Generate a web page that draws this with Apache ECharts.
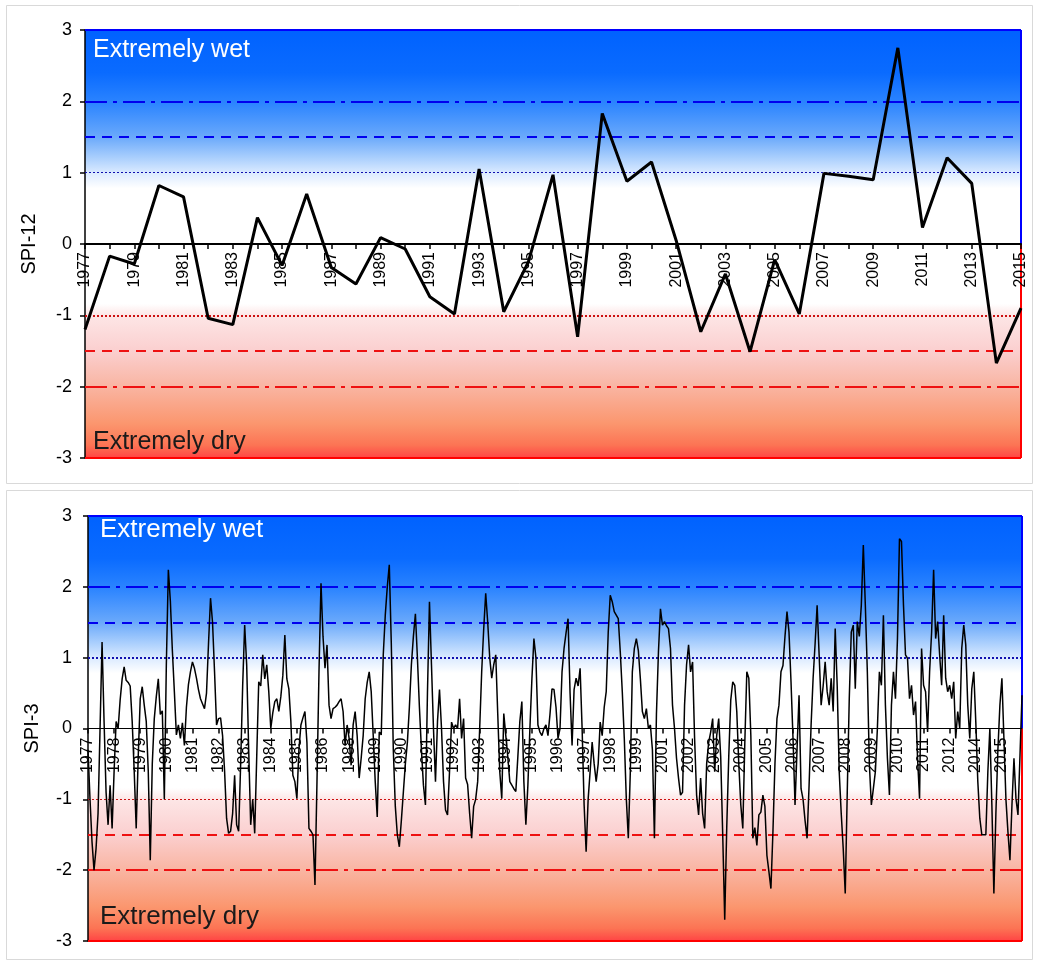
<!DOCTYPE html>
<html>
<head>
<meta charset="utf-8">
<script src="https://cdn.jsdelivr.net/npm/echarts@6/dist/echarts.min.js"></script>
<style>
html,body{margin:0;padding:0;background:#fff;}
#c{width:1040px;height:963px;}
</style>
</head>
<body>
<div id="c"></div>
<script>
// ---------- DATA ----------
const years12 = ['1977','1978','1979','1980','1981','1982','1983','1984','1985','1986','1987','1988','1989','1990','1991','1992','1993','1994','1995','1996','1997','1998','1999','2000','2001','2002','2003','2004','2005','2006','2007','2008','2009','2010','2011','2012','2013','2014','2015'];
const spi12 = [-1.2,-0.17,-0.28,0.82,0.66,-1.04,-1.13,0.37,-0.3,0.7,-0.33,-0.56,0.09,-0.07,-0.74,-0.98,1.05,-0.95,-0.25,0.97,-1.3,1.83,0.88,1.15,0.05,-1.23,-0.42,-1.51,-0.22,-0.98,0.99,0.95,0.9,2.75,0.23,1.21,0.85,-1.67,-0.9];

// SPI-3 monthly values, March 1977 - December 2015
const spi3_a = [ // 1977-03 .. 1985-02
-0.3,-1.0,-1.6,-2.0,-1.7,-1.2,0.0,1.22,0.1,-0.9,
-1.36,-0.8,-1.41,-0.6,0.1,0.0,0.4,0.7,0.87,0.68,
0.65,0.6,0.1,-0.6,-1.41,-0.4,0.42,0.59,0.33,0.1,
-0.6,-1.86,-0.5,0.14,0.45,0.7,0.2,0.25,-1.0,0.9,
2.24,1.8,1.1,0.52,-0.09,0.05,-0.14,0.08,-0.24,0.3,
0.62,0.8,0.94,0.85,0.71,0.55,0.42,0.35,0.28,0.5,
1.2,1.84,1.5,0.8,0.05,0.14,0.15,-0.1,-0.6,-1.27,
-1.48,-1.45,-1.2,-0.66,-1.36,-1.45,-0.5,0.6,1.46,0.9,
-0.3,-1.36,-1.0,-1.48,-0.4,0.66,0.6,1.04,0.7,0.9,
0.52,0.0,0.22,0.38,0.42,0.24];
const spi3_b = [ // 1985-03 .. 1993-02
0.45,0.75,1.32,0.7,
0.56,0.1,-0.66,-0.75,-0.99,-0.3,0.05,0.15,0.24,-0.2,
-1.41,-1.45,-1.5,-2.21,-0.75,0.8,2.05,1.3,0.85,1.18,
0.33,0.14,0.28,0.3,0.33,0.38,0.42,0.24,-0.24,0.05,
-0.14,-0.52,0.05,0.24,-0.1,-0.7,-0.42,-0.1,0.42,0.65,
0.8,0.52,-0.1,-0.75,-1.25,-0.05,-0.09,1.04,1.6,2.0,
2.31,1.2,-0.3,-1.1,-1.5,-1.67,-1.3,-0.9,-0.5,-0.2,
0.3,0.9,1.3,1.62,1.0,0.3,-0.3,-0.8,-1.08,0.5,
1.79,0.9,0.0,-0.75,0.1,0.55,0.0,-0.75,-1.15,-1.22,
-0.6,0.09,0.0,0.05,0.0,0.42];
const spi3_c = [ // 1993-03 .. 2001-02
-0.14,0.14,-0.7,-0.79,
-1.2,-1.55,-1.1,-1.0,-0.75,0.0,0.8,1.4,1.91,1.5,
1.0,0.71,0.9,1.04,0.2,-0.61,-0.99,0.21,-0.1,-0.4,
-0.75,-0.8,-0.85,-0.89,-0.4,0.1,0.38,-0.75,-1.36,-0.8,
0.0,0.7,1.27,1.0,0.05,-0.05,-0.1,0.0,0.05,-0.1,
0.2,0.56,0.55,0.3,-0.14,0.0,0.8,1.13,1.35,1.55,
0.5,-0.24,0.55,0.71,0.6,0.85,0.0,-1.08,-1.74,-1.0,
-0.6,-0.19,-0.5,-0.75,-0.5,0.09,-0.1,0.3,0.52,1.36,
1.88,1.79,1.65,1.6,1.55,1.08,0.52,-0.14,-0.99,-1.55,
-0.61,0.8,1.13,1.27,1.1,0.7];
const spi3_d = [ // 2001-03 .. 2009-02
0.24,0.14,0.28,0.0,
0.05,-0.3,-1.55,0.2,1.08,1.69,1.46,1.51,1.45,1.41,
1.13,0.33,0.0,-0.42,-0.7,-0.94,-0.9,0.33,0.9,1.18,
0.8,0.94,-0.14,-0.94,-1.22,-0.7,-1.2,-1.41,-0.5,-0.2,
-0.05,0.14,-0.61,-0.1,0.14,-0.4,-1.5,-2.7,-1.4,-0.4,
0.4,0.66,0.61,0.24,-0.5,-1.08,-1.41,-0.2,0.8,0.71,
-0.1,-1.55,-1.4,-1.65,-1.22,-1.18,-0.94,-1.1,-1.79,-2.02,
-2.26,-1.46,-0.5,0.14,0.33,0.8,0.89,1.3,1.65,1.36,
0.66,-0.14,-1.08,-0.3,0.47,-0.85,-1.0,-1.3,-1.55,-0.8,
0.05,0.71,1.2,1.74,1.04,0.33];
const spi3_e = [ // 2009-03 .. 2015-12
0.6,0.94,0.52,0.33,
0.71,0.24,1.41,0.6,-0.61,-1.2,-1.7,-2.33,-0.9,0.42,
1.36,1.46,0.56,1.51,1.3,1.74,2.59,1.74,0.8,-0.5,
-1.08,-0.85,-0.61,0.0,0.8,0.61,1.6,0.33,-0.42,-0.94,
0.33,0.8,0.42,1.27,2.68,2.64,1.74,1.04,0.99,0.42,
0.61,0.19,0.38,-0.42,-0.99,1.13,0.61,0.52,-0.05,0.8,
1.36,2.24,1.27,1.51,1.04,0.61,1.6,0.71,0.52,0.61,
0.42,0.66,-0.14,0.24,0.0,1.13,1.46,1.18,0.33,-0.14,
0.56,0.8,0.09,-0.75,-1.27,-1.5,-1.5,-1.5,-0.61,0.0,
-1.08,-2.33,-1.2,-0.3,0.33,0.71,-0.14,-1.0,-1.46,-1.86,
-1.08,-0.42,-0.99,-1.22,-0.38,0.47];
const spi3 = spi3_a.concat(spi3_b, spi3_c, spi3_d, spi3_e);

// month categories: label = year of each month, starting March 1977
const startYear = 1977, startMonth = 3;
const months3 = spi3.map((v, i) => String(startYear + Math.floor((startMonth - 1 + i) / 12)));

const thresholds = { wet: [1, 1.5, 2], dry: [-1, -1.5, -2] };
const textWet = 'Extremely wet', textDry = 'Extremely dry';

// ---------- STYLE ----------
const FONT = '"Liberation Sans", Arial, sans-serif';
const BLUE = '#0000ee', RED = '#ee1111';
const G1 = {left: 85, top: 30, width: 936, height: 428};
const G2 = {left: 88, top: 516, width: 934, height: 425};
function bg() {
  return new echarts.graphic.LinearGradient(0, 0, 0, 1, [
    {offset: 0, color: '#0062ff'},
    {offset: 0.10, color: '#0a6bff'},
    {offset: 0.17, color: '#2b84ff'},
    {offset: 0.25, color: '#6aa9fb'},
    {offset: 0.30, color: '#acd0fd'},
    {offset: 0.335, color: '#dcebff'},
    {offset: 0.37, color: '#ffffff'},
    {offset: 0.64, color: '#ffffff'},
    {offset: 0.667, color: '#fde6e6'},
    {offset: 0.75, color: '#fbcfcf'},
    {offset: 0.83, color: '#f9b6a4'},
    {offset: 0.92, color: '#fb966e'},
    {offset: 0.97, color: '#fc7454'},
    {offset: 1, color: '#ff4444'}
  ]);
}
function refLines(lastIdx, dotBlueW, dotRedW) {
  return {
    silent: true, symbol: ['none', 'none'], z: 1, animation: false,
    label: {show: false}, emphasis: {disabled: true},
    data: [
      {yAxis: thresholds.wet[2], lineStyle: {color: BLUE, width: 2, type: [22, 6, 4, 6]}},
      {yAxis: thresholds.wet[1], lineStyle: {color: BLUE, width: 2, type: [10, 7]}},
      {yAxis: thresholds.wet[0], lineStyle: {color: '#1010b0', width: dotBlueW, type: [2, 2]}},
      {yAxis: thresholds.dry[0], lineStyle: {color: '#cc1111', width: dotRedW, type: [2, 2]}},
      {yAxis: thresholds.dry[1], lineStyle: {color: RED, width: 2, type: [10, 7]}},
      {yAxis: thresholds.dry[2], lineStyle: {color: RED, width: 2, type: [22, 6, 4, 6]}},
      {yAxis: 3, lineStyle: {color: '#0000ff', width: 2, type: 'solid'}},
      {yAxis: -3, lineStyle: {color: '#ff0000', width: 2, type: 'solid'}},
      [{coord: [lastIdx, 0], lineStyle: {color: '#0000ff', width: 2, type: 'solid'}}, {coord: [lastIdx, 3]}],
      [{coord: [lastIdx, 0], lineStyle: {color: '#ff0000', width: 2, type: 'solid'}}, {coord: [lastIdx, -3]}]
    ]
  };
}
function yAxis(gridIndex, name, margin) {
  return {
    type: 'value', gridIndex, min: -3, max: 3, interval: 1,
    axisLine: {show: true, onZero: false, lineStyle: {color: '#000', width: 1.5}},
    axisTick: {show: true, length: 5, lineStyle: {color: '#000', width: 1.5}},
    axisLabel: {color: '#000', fontSize: 18, fontFamily: FONT, margin},
    splitLine: {show: false},
    name, nameLocation: 'middle', nameGap: 46,
    nameTextStyle: {color: '#000', fontSize: 20, fontFamily: FONT}
  };
}

const chart = echarts.init(document.getElementById('c'), null, {renderer: 'canvas'});
chart.setOption({
  animation: false,
  backgroundColor: '#fff',
  grid: [
    Object.assign({show: true, backgroundColor: bg(), borderWidth: 0}, G1),
    Object.assign({show: true, backgroundColor: bg(), borderWidth: 0}, G2)
  ],
  xAxis: [
    {type: 'category', gridIndex: 0, data: years12, boundaryGap: false, position: 'bottom',
     offset: -G1.height / 2,
     axisLine: {onZero: false, lineStyle: {color: '#000', width: 2}},
     axisTick: {interval: 0, length: 5, lineStyle: {color: '#000', width: 1.5}},
     axisLabel: {interval: 1, rotate: 90, color: '#000', fontSize: 16, fontFamily: FONT, margin: 8},
     splitLine: {show: false}, z: 4},
    {type: 'category', gridIndex: 1, data: months3, boundaryGap: false, position: 'bottom',
     offset: -G2.height / 2,
     axisLine: {onZero: false, lineStyle: {color: '#000', width: 1}},
     axisTick: {interval: 12, length: 5, lineStyle: {color: '#000', width: 1.5}},
     axisLabel: {interval: 12, rotate: 90, color: '#000', fontSize: 16, fontFamily: FONT, margin: 9},
     splitLine: {show: false}, z: 4}
  ],
  yAxis: [yAxis(0, 'SPI-12', 13), yAxis(1, 'SPI-3', 16)],
  series: [
    {type: 'line', xAxisIndex: 0, yAxisIndex: 0, data: spi12, symbol: 'none', z: 3,
     lineStyle: {color: '#000', width: 3}, markLine: refLines(years12.length - 1, 1.2, 2)},
    {type: 'line', xAxisIndex: 1, yAxisIndex: 1, data: spi3, symbol: 'none', z: 3,
     lineStyle: {color: '#000', width: 1.5}, markLine: refLines(spi3.length - 1, 2, 1)}
  ],
  graphic: [
    {type: 'rect', z: -10, shape: {x: 6.5, y: 5.5, width: 1026, height: 478}, style: {fill: 'none', stroke: '#d9d9d9', lineWidth: 1}},
    {type: 'rect', z: -10, shape: {x: 6.5, y: 490.5, width: 1026, height: 469}, style: {fill: 'none', stroke: '#d9d9d9', lineWidth: 1}},
    {type: 'text', z: 100, left: 93, top: 38, style: {text: textWet, fill: '#fff', font: '25px ' + FONT}},
    {type: 'text', z: 100, left: 93, top: 430, style: {text: textDry, fill: '#1a1a1a', font: '25px ' + FONT}},
    {type: 'text', z: 100, left: 100, top: 517, style: {text: textWet, fill: '#fff', font: '26px ' + FONT}},
    {type: 'text', z: 100, left: 100, top: 904, style: {text: textDry, fill: '#1a1a1a', font: '26px ' + FONT}}
  ]
});
</script>
</body>
</html>
